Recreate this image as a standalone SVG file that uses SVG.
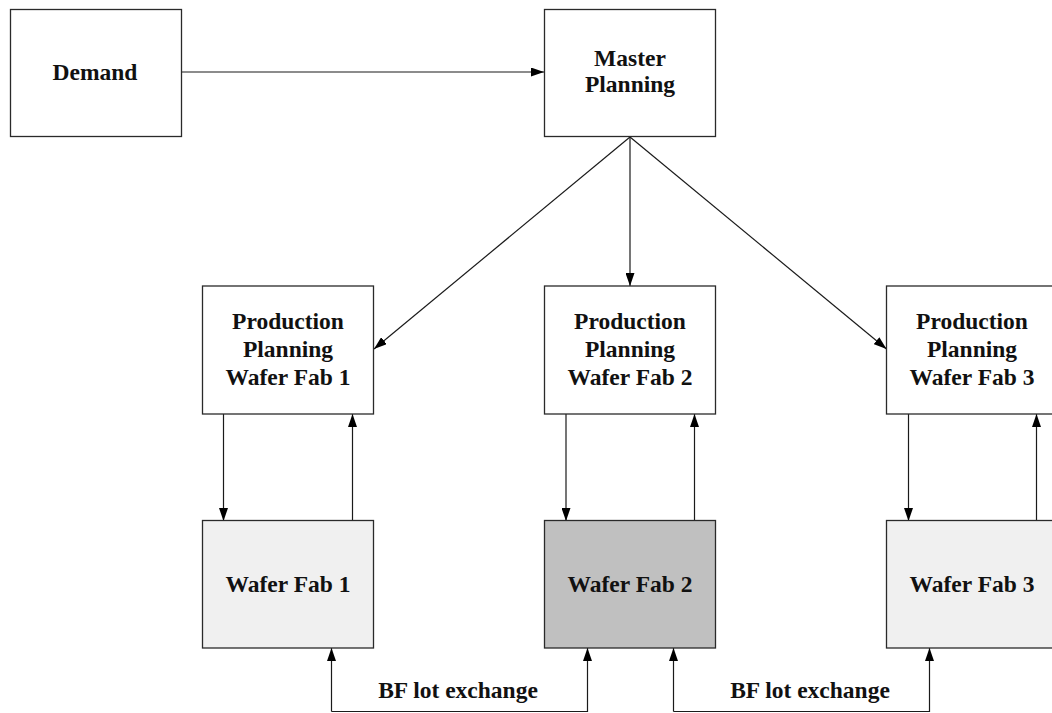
<svg xmlns="http://www.w3.org/2000/svg" width="1052" height="713" viewBox="0 0 1052 713">
<style>
.box{stroke:#2a2a2a;stroke-width:1.3;fill:#fff}
.light{fill:#f0f0f0}
.dark{fill:#c0c0c0}
.lbl{font-family:"Liberation Serif","Times New Roman",serif;font-weight:bold;font-size:23.5px;text-anchor:middle;fill:#111}
.ln{stroke:#1a1a1a;stroke-width:1.2;fill:none}
</style>
<defs>
<marker id="ah" markerUnits="userSpaceOnUse" markerWidth="13" markerHeight="9" refX="13" refY="4.5" orient="auto">
<path d="M0,0 L13,4.5 L0,9 z" fill="#000"/>
</marker>
</defs>
<rect width="1052" height="713" fill="#fff"/>
<g id="connectors">
<path class="ln" d="M181.5,72 L544,72" marker-end="url(#ah)"/>
<path class="ln" d="M630,137 L374,349" marker-end="url(#ah)"/>
<path class="ln" d="M630,137 L630,286" marker-end="url(#ah)"/>
<path class="ln" d="M630,137 L886.5,349" marker-end="url(#ah)"/>
<path class="ln" d="M223.5,414 L223.5,521" marker-end="url(#ah)"/>
<path class="ln" d="M352.5,521 L352.5,414" marker-end="url(#ah)"/>
<path class="ln" d="M566,414 L566,521" marker-end="url(#ah)"/>
<path class="ln" d="M694.5,521 L694.5,414" marker-end="url(#ah)"/>
<path class="ln" d="M908.5,414 L908.5,521" marker-end="url(#ah)"/>
<path class="ln" d="M1036.5,521 L1036.5,414" marker-end="url(#ah)"/>
<path class="ln" d="M331.5,711.5 L331.5,648" marker-end="url(#ah)"/>
<path class="ln" d="M331.5,711.5 L587.5,711.5 L587.5,648" marker-end="url(#ah)"/>
<path class="ln" d="M673.5,711.5 L673.5,648" marker-end="url(#ah)"/>
<path class="ln" d="M673.5,711.5 L929.5,711.5 L929.5,648" marker-end="url(#ah)"/>
<text class="lbl" x="458" y="697.5">BF lot exchange</text>
<text class="lbl" x="810" y="697.5">BF lot exchange</text>
</g>
<g id="demand">
<rect class="box" x="10.5" y="9.5" width="171" height="127"/>
<text class="lbl" x="95" y="80">Demand</text>
</g>
<g id="master-planning">
<rect class="box" x="544.5" y="9.5" width="171" height="127"/>
<text class="lbl" x="630" y="65.5">Master</text>
<text class="lbl" x="630" y="91.5">Planning</text>
</g>
<g id="pp1">
<rect class="box" x="202.5" y="286" width="171" height="128"/>
<text class="lbl" x="288" y="329">Production</text>
<text class="lbl" x="288" y="357">Planning</text>
<text class="lbl" x="288" y="385">Wafer Fab 1</text>
</g>
<g id="pp2">
<rect class="box" x="544.5" y="286" width="171" height="128"/>
<text class="lbl" x="630" y="329">Production</text>
<text class="lbl" x="630" y="357">Planning</text>
<text class="lbl" x="630" y="385">Wafer Fab 2</text>
</g>
<g id="pp3">
<rect class="box" x="886.5" y="286" width="171" height="128"/>
<text class="lbl" x="972" y="329">Production</text>
<text class="lbl" x="972" y="357">Planning</text>
<text class="lbl" x="972" y="385">Wafer Fab 3</text>
</g>
<g id="wf1">
<rect class="box light" x="202.5" y="520.5" width="171" height="127.5"/>
<text class="lbl" x="288" y="591.5">Wafer Fab 1</text>
</g>
<g id="wf2">
<rect class="box dark" x="544.5" y="520.5" width="171" height="127.5"/>
<text class="lbl" x="630" y="591.5">Wafer Fab 2</text>
</g>
<g id="wf3">
<rect class="box light" x="886.5" y="520.5" width="171" height="127.5"/>
<text class="lbl" x="972" y="591.5">Wafer Fab 3</text>
</g>
</svg>
